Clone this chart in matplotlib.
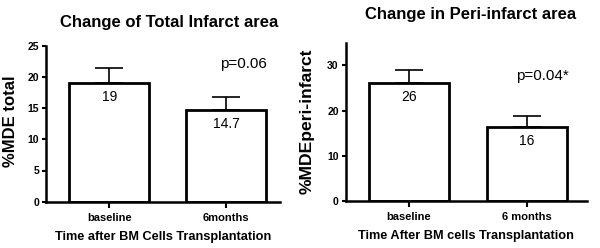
import matplotlib
matplotlib.use("Agg")
import matplotlib.pyplot as plt

# Left panel: total infarct area
groups_total = ["baseline", "6months"]
mean_total = [19.0, 14.7]
err_total = [2.5, 2.1]
labels_total = ["19", "14.7"]

# Right panel: peri-infarct area
groups_peri = ["baseline", "6 months"]
mean_peri = [26.0, 16.3]
err_peri = [2.9, 2.4]
labels_peri = ["26", "16"]

plt.rcParams["font.family"] = ["Liberation Sans", "DejaVu Sans"]

fig = plt.figure(figsize=(6.0, 2.48), dpi=100)


def draw_panel(ax, groups, means, errs, labels, ylim, yticks, xlim,
               ylabel, ylsize, ylpos, xlabel, ptext, ppos):
    x = list(range(len(groups)))
    ax.bar(x, means, width=0.68, color="white", edgecolor="black",
           linewidth=2, zorder=2)
    ax.errorbar(x, means, yerr=[[0] * len(errs), errs], fmt="none",
                ecolor="black", elinewidth=1.2, capsize=10, capthick=1.2,
                zorder=1)
    for xi, m, lab in zip(x, means, labels):
        ax.annotate(lab, (xi, m), xytext=(0, -5), textcoords="offset points",
                    ha="center", va="top", fontsize=10, zorder=3)
    ax.text(ppos[0], ppos[1], ptext, ha="center", va="center", fontsize=11)
    ax.set_xlim(*xlim)
    ax.set_ylim(*ylim)
    ax.set_yticks(yticks)
    ax.set_xticks(x)
    ax.set_xticklabels(groups, fontsize=8, fontweight="bold")
    for t in ax.get_yticklabels():
        t.set_fontsize(7.5)
        t.set_fontweight("bold")
    ax.tick_params(axis="both", direction="out", length=3, width=1.5, pad=2)
    ax.tick_params(axis="x", length=4, pad=4)
    for s in ["top", "right"]:
        ax.spines[s].set_visible(False)
    for s in ["left", "bottom"]:
        ax.spines[s].set_linewidth(1.8)
    ax.set_ylabel(ylabel, fontsize=ylsize, fontweight="bold")
    ax.yaxis.set_label_coords(*ylpos)
    ax.set_xlabel(xlabel, fontsize=9.2, fontweight="bold", labelpad=6)


ax1 = fig.add_axes([0.0767, 0.1867, 0.39, 0.629])
draw_panel(ax1, groups_total, mean_total, err_total, labels_total,
           (0, 25), [0, 5, 10, 15, 20, 25], (-0.54, 1.46),
           "%MDE total", 12, (-0.12, 0.517),
           "Time after BM Cells Transplantation", "p=0.06", (1.145, 22.1))

ax2 = fig.add_axes([0.576, 0.1895, 0.402, 0.638])
draw_panel(ax2, groups_peri, mean_peri, err_peri, labels_peri,
           (0, 35), [0, 10, 20, 30], (-0.536, 1.51),
           "%MDEperi-infarct", 12.6, (-0.127, 0.505),
           "Time After BM cells Transplantation", "p=0.04*", (1.136, 27.7))

fig.text(169 / 600, 1 - 23 / 248, "Change of Total Infarct area",
         ha="center", va="center", fontsize=12, fontweight="bold")
fig.text(471 / 600, 1 - 15 / 248, "Change in Peri-infarct area",
         ha="center", va="center", fontsize=12, fontweight="bold")

fig.savefig("out.png", dpi=100)
